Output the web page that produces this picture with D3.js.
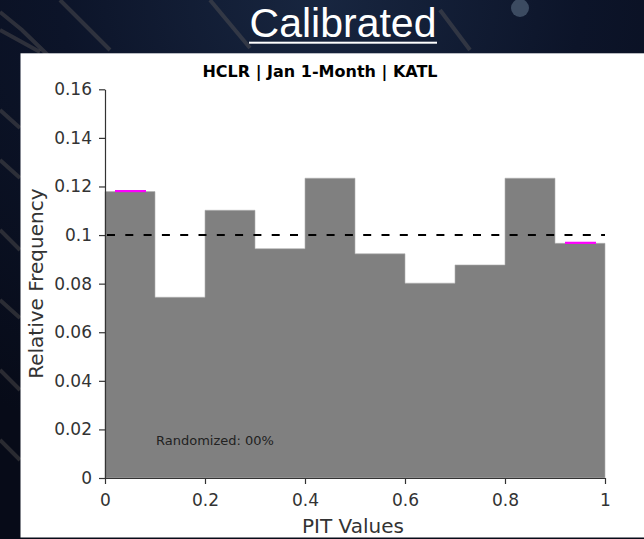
<!DOCTYPE html>
<html>
<head>
<meta charset="utf-8">
<script src="https://cdn.jsdelivr.net/npm/d3@7/dist/d3.min.js"></script>
<style>
  html, body { margin: 0; padding: 0; background: #0b1326; }
  svg { display: block; }
  .axis text { font-family: 'DejaVu Sans', sans-serif; font-size: 17px; fill: #333; }
  .axis path, .axis line { stroke: #333; stroke-width: 1.2; }
</style>
</head>
<body>
<div id="chart"></div>
<script>
// PIT histogram data (10 bins of width 0.1)
const binEdges = [0, 0.1, 0.2, 0.3, 0.4, 0.5, 0.6, 0.7, 0.8, 0.9, 1.0];
const frequencies = [0.1179, 0.0744, 0.1102, 0.0944, 0.1234, 0.0923, 0.0802, 0.0877, 0.1234, 0.0966];

// magenta markers on the outer bins
const markerStarts = [0.02, 0.92];
const markerEnds = [0.082, 0.982];
const markerValues = [0.1181, 0.0968];

const referenceLevel = 0.1;
const xTicks = [0, 0.2, 0.4, 0.6, 0.8, 1];
const yTicks = [0, 0.02, 0.04, 0.06, 0.08, 0.1, 0.12, 0.14, 0.16];

const pageTitle = 'Calibrated';
const chartTitle = 'HCLR | Jan 1-Month | KATL';
const xLabel = 'PIT Values';
const yLabel = 'Relative Frequency';
const note = 'Randomized: 00%';

const W = 644, H = 539;
const margin = {top: 89.3, right: 39, bottom: 61, left: 105};
const width = W - margin.left - margin.right;
const height = H - margin.top - margin.bottom;

const svg = d3.select('#chart').append('svg')
    .attr('width', W)
    .attr('height', H);

// dark backdrop
const defs = svg.append('defs');
const grad = defs.append('radialGradient')
    .attr('id', 'bg')
    .attr('cx', '50%').attr('cy', '0%').attr('r', '90%');
grad.append('stop').attr('offset', '0%').attr('stop-color', '#182640');
grad.append('stop').attr('offset', '45%').attr('stop-color', '#0c1429');
grad.append('stop').attr('offset', '100%').attr('stop-color', '#070b18');

svg.append('rect')
    .attr('width', W).attr('height', H)
    .attr('fill', 'url(#bg)');

// a few faint circuit traces behind the panel
const traces = [
    [[0, 12], [22, 30], [55, 62]],
    [[0, 30], [40, 52]],
    [[0, 110], [20, 128]],
    [[0, 160], [20, 178]],
    [[0, 230], [20, 250]],
    [[0, 300], [20, 318]],
    [[0, 370], [20, 390]],
    [[0, 440], [20, 460]],
    [[60, 0], [110, 50]],
    [[210, 0], [250, 48]],
    [[440, 10], [470, 50]]
];
svg.append('g')
    .selectAll('path')
    .data(traces)
    .join('path')
    .attr('d', d3.line())
    .attr('fill', 'none')
    .attr('stroke', '#6e6660')
    .attr('stroke-opacity', 0.35)
    .attr('stroke-width', 4);

svg.append('circle')
    .attr('cx', 520).attr('cy', 8).attr('r', 9)
    .attr('fill', '#6a7d94').attr('opacity', 0.5);

// heading
svg.append('text')
    .attr('x', 343)
    .attr('y', 37.3)
    .attr('text-anchor', 'middle')
    .attr('fill', '#fff')
    .style('font-family', "'Liberation Sans', Arial, sans-serif")
    .style('font-size', '41px')
    .text(pageTitle);

svg.append('rect')
    .attr('x', 249).attr('y', 41.7)
    .attr('width', 188).attr('height', 2)
    .attr('fill', '#fff');

// white chart panel
svg.append('rect')
    .attr('x', 20.5).attr('y', 53.3)
    .attr('width', W - 20.5).attr('height', 537.5 - 53.3)
    .attr('fill', '#fff');

const g = svg.append('g')
    .attr('transform', 'translate(' + margin.left + ',' + margin.top + ')');

const x = d3.scaleLinear().domain([0, 1]).range([0, width]);
const y = d3.scaleLinear().domain([0, 0.16]).range([height, 0]);

// step-filled histogram, last edge repeats the last bin height
const steps = binEdges.map((e, i) => ({e: e, f: frequencies[Math.min(i, frequencies.length - 1)]}));

const area = d3.area()
    .curve(d3.curveStepAfter)
    .x(d => x(d.e))
    .y0(y(0))
    .y1(d => y(d.f));

g.append('path')
    .datum(steps)
    .attr('d', area)
    .attr('fill', '#808080')
    .attr('stroke', '#b0b0b0')
    .attr('stroke-width', 0.6);

// expected-frequency reference
g.append('line')
    .attr('x1', x(0)).attr('x2', x(1))
    .attr('y1', y(referenceLevel)).attr('y2', y(referenceLevel))
    .attr('stroke', '#000')
    .attr('stroke-width', 2)
    .attr('stroke-dasharray', '8,10.3')
    .attr('stroke-dashoffset', -2);

g.append('g')
    .selectAll('line')
    .data(markerValues)
    .join('line')
    .attr('x1', (d, i) => x(markerStarts[i]))
    .attr('x2', (d, i) => x(markerEnds[i]))
    .attr('y1', d => y(d))
    .attr('y2', d => y(d))
    .attr('stroke', '#ff00ff')
    .attr('stroke-width', 2.2);

g.append('text')
    .attr('x', x(0.102))
    .attr('y', y(0.0136))
    .attr('fill', '#222')
    .style('font-family', "'DejaVu Sans', sans-serif")
    .style('font-size', '13px')
    .text(note);

// axes
const fmt = d => d === 0 ? '0' : d3.format('')(+d.toFixed(2));

g.append('g')
    .attr('class', 'axis')
    .attr('transform', 'translate(0,' + height + ')')
    .call(d3.axisBottom(x)
        .tickValues(xTicks)
        .tickFormat(fmt)
        .tickSize(6)
        .tickSizeOuter(0)
        .tickPadding(10));

g.append('g')
    .attr('class', 'axis')
    .call(d3.axisLeft(y)
        .tickValues(yTicks)
        .tickFormat(fmt)
        .tickSize(6)
        .tickSizeOuter(0)
        .tickPadding(7));

// titles
svg.append('text')
    .attr('x', 320)
    .attr('y', 77.3)
    .attr('text-anchor', 'middle')
    .attr('fill', '#000')
    .style('font-family', "'DejaVu Sans', sans-serif")
    .style('font-weight', 'bold')
    .style('font-size', '16px')
    .text(chartTitle);

svg.append('text')
    .attr('x', margin.left + width / 2 - 2)
    .attr('y', 532.5)
    .attr('text-anchor', 'middle')
    .attr('fill', '#333')
    .style('font-family', "'DejaVu Sans', sans-serif")
    .style('font-size', '20px')
    .text(xLabel);

svg.append('text')
    .attr('transform', 'translate(43,' + (margin.top + height / 2) + ') rotate(-90)')
    .attr('text-anchor', 'middle')
    .attr('fill', '#333')
    .style('font-family', "'DejaVu Sans', sans-serif")
    .style('font-size', '20px')
    .text(yLabel);
</script>
</body>
</html>
